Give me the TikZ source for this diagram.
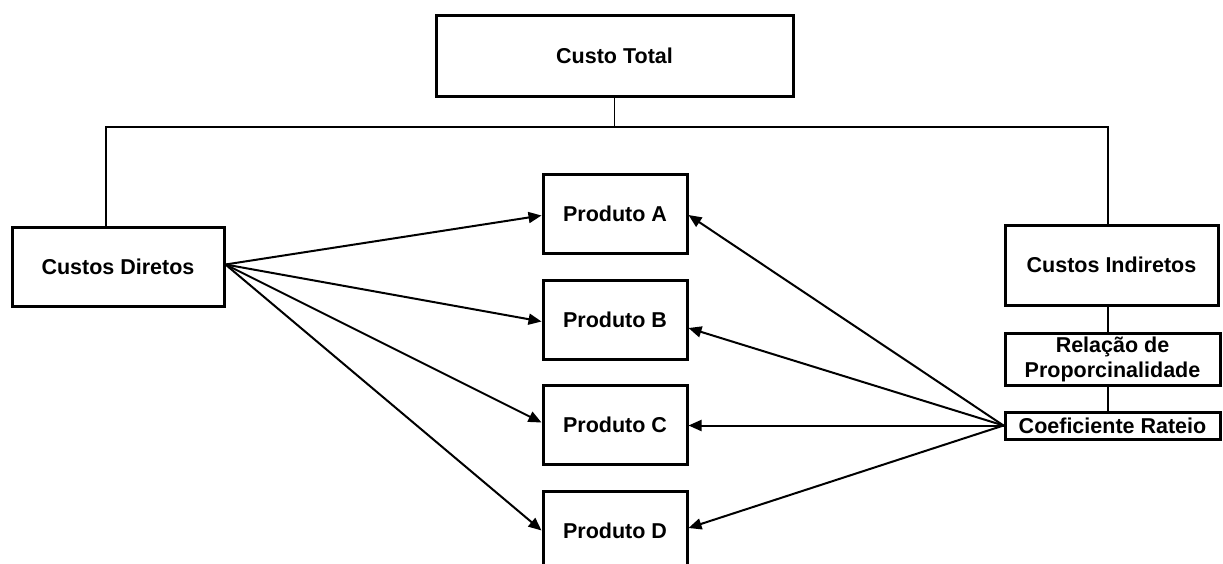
\documentclass[tikz,border=0pt]{standalone}
\usepackage{fontspec}
\setmainfont{Liberation Sans}
\usetikzlibrary{arrows.meta}
\begin{document}
\begin{tikzpicture}[x=1pt,y=-1pt,
  box/.style={draw, line width=3pt, inner sep=0pt, align=center,
    font=\fontsize{21.5}{25}\selectfont\bfseries},
  tree/.style={line width=1.5pt},
  flow/.style={line width=2pt, -{Triangle[length=13pt,width=11pt]}}]
  % page frame
  \clip (0,0) rectangle (1223,563);
  \fill[white] (0,0) rectangle (1223,563);

  % boxes
  \node[box, minimum width=357pt, minimum height=81pt] (tot) at (614.5,55.5) {Custo Total};
  \node[box, minimum width=212pt, minimum height=79pt] (dir) at (118,266.5) {Custos Diretos};
  \node[box, minimum width=213pt, minimum height=80pt] (ind) at (1111.5,265) {Custos Indiretos};
  \node[box, minimum width=215pt, minimum height=52pt] (rel) at (1112.5,359) {Relação de\\Proporcinalidade};
  \node[box, minimum width=215pt, minimum height=27pt] (coef) at (1112.5,425.5) {Coeficiente Rateio};
  \node[box, minimum width=144pt, minimum height=79pt] (pa) at (615,213.5) {Produto A};
  \node[box, minimum width=144pt, minimum height=79pt] (pb) at (615,319.5) {Produto B};
  \node[box, minimum width=144pt, minimum height=79pt] (pc) at (615,424.5) {Produto C};
  \node[box, minimum width=144pt, minimum height=79pt] (pd) at (615,530.5) {Produto D};

  % cost tree
  \coordinate (hl) at (106,127);
  \coordinate (hr) at (1108,127);
  \draw[tree] (tot.south) -- (tot.south |- hl);
  \draw[tree] (hl |- dir.north) -- (hl) -- (hr) -- (hr |- ind.north);
  \draw[tree] (ind.south -| hr) -- (rel.north -| hr);
  \draw[tree] (rel.south -| hr) -- (coef.north -| hr);

  % direct costs to products
  \coordinate (dout) at ([yshift=2pt]dir.east);
  \draw[flow] (dout) -- ([yshift=-2pt]pa.west);
  \draw[flow] (dout) -- ([yshift=-2pt]pb.west);
  \draw[flow] (dout) -- ([yshift=2pt]pc.west);
  \draw[flow] (dout) -- (pd.west);

  % apportionment to products
  \coordinate (cout) at (coef.west);
  \draw[flow] (cout) -- ([yshift=-1.5pt]pa.east);
  \draw[flow] (cout) -- ([yshift=-8.5pt]pb.east);
  \draw[flow] (cout) -- (cout -| pc.east);
  \draw[flow] (cout) -- ([yshift=2.5pt]pd.east);
\end{tikzpicture}
\end{document}
